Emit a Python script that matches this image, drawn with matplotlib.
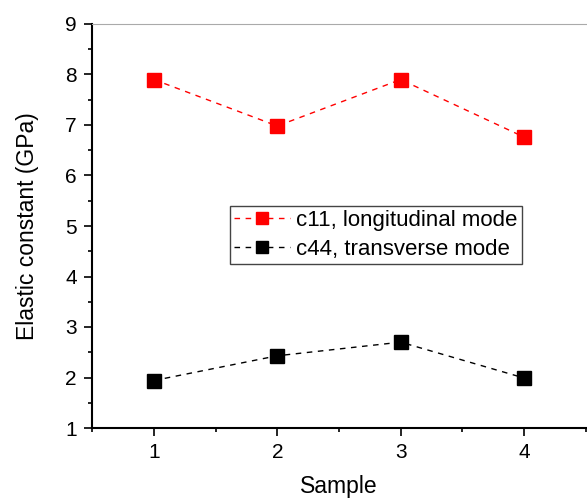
import numpy as np
import matplotlib.pyplot as plt
from matplotlib.ticker import MultipleLocator

plt.rcParams['font.family'] = ['Liberation Sans', 'DejaVu Sans']

# data
samples = [1, 2, 3, 4]
c11 = [7.9, 6.98, 7.9, 6.76]
c44 = [1.94, 2.43, 2.70, 1.99]

fig = plt.figure(figsize=(5.87, 5.0), dpi=100)
ax = fig.add_axes([0.157, 0.144, 0.841, 0.808])

ax.plot(samples, c11, color='red', linestyle=(0, (4, 4)), linewidth=1.0,
        marker='s', markersize=10, label='c11, longitudinal mode')
ax.plot(samples, c44, color='black', linestyle=(0, (4, 4)), linewidth=1.0,
        marker='s', markersize=10, label='c44, transverse mode')

ax.set_xlim(0.5, 4.5)
ax.set_ylim(1, 9)
ax.set_xticks(samples)
ax.xaxis.set_minor_locator(MultipleLocator(0.5))
ax.yaxis.set_major_locator(MultipleLocator(1))
ax.yaxis.set_minor_locator(MultipleLocator(0.5))
ax.tick_params(which='both', direction='out', width=1.2, labelsize=15)
ax.tick_params(which='major', length=6, pad=5)
ax.tick_params(which='minor', length=3)

ax.spines['left'].set_linewidth(1.5)
ax.spines['bottom'].set_linewidth(1.5)
ax.spines['top'].set_color('#aaaaaa')
ax.spines['right'].set_visible(False)

ax.set_xlabel('Sample', fontsize=16.5, labelpad=9)
ax.set_ylabel('Elastic constant (GPa)', fontsize=16.5, labelpad=19)

leg = ax.legend(loc='center', bbox_to_anchor=(0.575, 0.478), fontsize=16,
                fancybox=False, framealpha=1, edgecolor='#444444',
                handlelength=2.5, handletextpad=0.3, borderpad=0.2,
                labelspacing=0.35, markerscale=0.85)
leg.get_frame().set_linewidth(1.0)

fig.savefig('out.png', dpi=100)
